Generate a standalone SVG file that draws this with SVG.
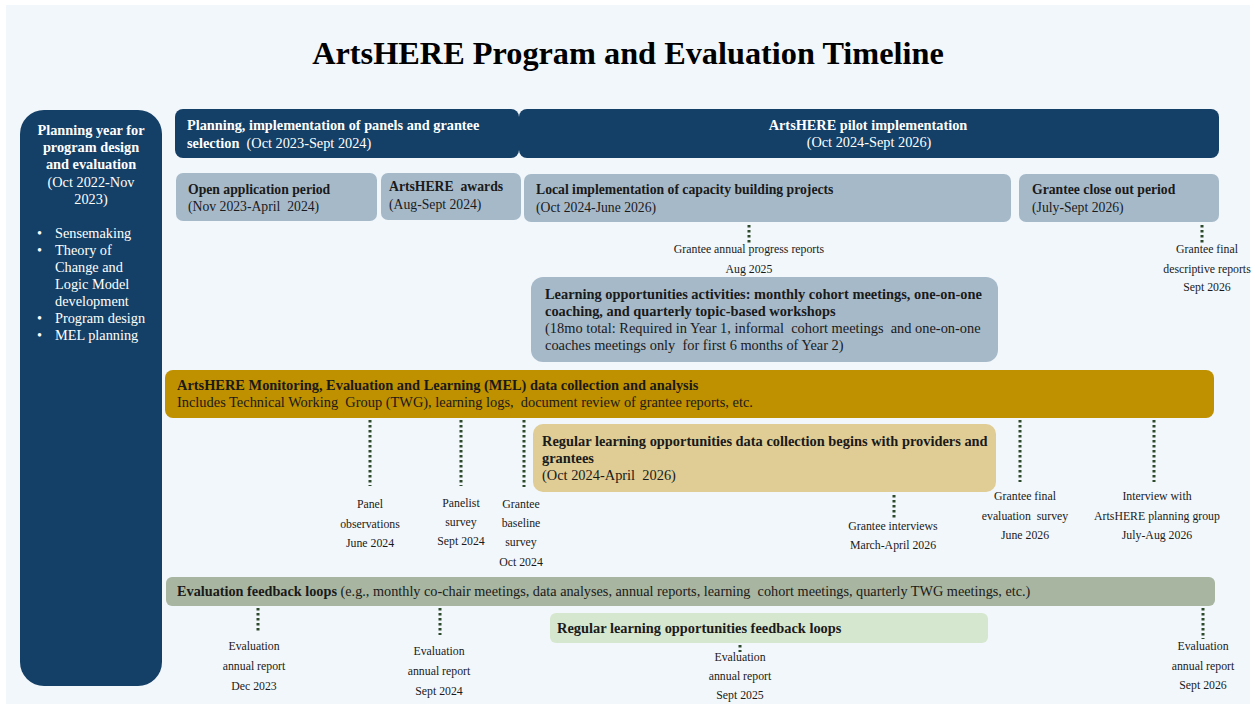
<svg xmlns="http://www.w3.org/2000/svg" width="1255" height="704" viewBox="0 0 1255 704" xml:space="preserve">
<style>
text{font-family:"Liberation Serif","Times New Roman",serif;white-space:pre;}
.t{font-size:14.4px;fill:#1a1a1a;}
.r2{font-size:13.7px;fill:#1a1a1a;}
.w{font-size:14.3px;fill:#ffffff;}
.b{font-weight:bold;}
.n{font-weight:normal;}
.s{font-size:11.8px;fill:#1a1a1a;text-anchor:middle;}
.c{text-anchor:middle;}
.navy{fill:#143f66;}
.gb{fill:#a6b9c9;}
.dot{stroke:#2d4a2d;stroke-width:3;stroke-dasharray:2.5 2.5;fill:none;}
</style>
<rect x="0" y="0" width="1255" height="704" fill="#ffffff"/>
<rect x="6" y="5" width="1244" height="699" fill="#f2f7fb"/>
<text x="628" y="64" class="c b" style="font-size:32.3px;fill:#000">ArtsHERE Program and Evaluation Timeline</text>

<g id="planning-year">
<rect x="20" y="110" width="142" height="576" rx="24" class="navy"/>
<text class="w c b"><tspan x="91" y="135">Planning year for</tspan><tspan x="91" y="152">program design</tspan><tspan x="91" y="169">and evaluation</tspan></text>
<text class="w c"><tspan x="91" y="187">(Oct 2022-Nov</tspan><tspan x="91" y="204">2023)</tspan></text>
<text class="w"><tspan x="37" y="238">•</tspan><tspan x="55" y="238">Sensemaking</tspan><tspan x="37" y="255">•</tspan><tspan x="55" y="255">Theory of</tspan><tspan x="55" y="272">Change and</tspan><tspan x="55" y="289">Logic Model</tspan><tspan x="55" y="306">development</tspan><tspan x="37" y="323">•</tspan><tspan x="55" y="323">Program design</tspan><tspan x="37" y="340">•</tspan><tspan x="55" y="340">MEL planning</tspan></text>
</g>

<g id="planning-implementation">
<rect x="175" y="109" width="344" height="49" rx="8" class="navy"/>
<text class="w b"><tspan x="187" y="130">Planning, implementation of panels and grantee</tspan><tspan x="187" y="148">selection</tspan><tspan class="n">  (Oct 2023-Sept 2024)</tspan></text>
</g>

<g id="pilot-implementation">
<rect x="519" y="109" width="700" height="49" rx="8" class="navy"/>
<text class="w b c" x="868" y="130">ArtsHERE pilot implementation</text>
<text class="w c" x="869" y="147">(Oct 2024-Sept 2026)</text>
</g>

<g id="open-application">
<rect x="176" y="173" width="201" height="48" rx="7" class="gb"/>
<text class="r2"><tspan x="188" y="194" class="b">Open application period</tspan><tspan x="188" y="211">(Nov 2023-April  2024)</tspan></text>
</g>

<g id="awards">
<rect x="381" y="173" width="140" height="47" rx="7" class="gb"/>
<text class="r2"><tspan x="389" y="191" class="b">ArtsHERE  awards</tspan><tspan x="389" y="209">(Aug-Sept 2024)</tspan></text>
</g>

<g id="local-implementation">
<rect x="524" y="174" width="487" height="48" rx="7" class="gb"/>
<text class="r2"><tspan x="536" y="194" class="b">Local implementation of capacity building projects</tspan><tspan x="536" y="212">(Oct 2024-June 2026)</tspan></text>
</g>

<g id="close-out">
<rect x="1019" y="174" width="200" height="48" rx="7" class="gb"/>
<text class="r2"><tspan x="1032" y="194" class="b">Grantee close out period</tspan><tspan x="1032" y="212">(July-Sept 2026)</tspan></text>
</g>

<g id="learning-activities">
<rect x="531" y="277" width="467" height="85" rx="12" class="gb"/>
<text class="t"><tspan x="545" y="299" class="b">Learning opportunities activities: monthly cohort meetings, one-on-one</tspan><tspan x="545" y="316" class="b">coaching, and quarterly topic-based workshops</tspan><tspan x="545" y="333">(18mo total: Required in Year 1, informal  cohort meetings  and one-on-one</tspan><tspan x="545" y="350">coaches meetings only  for first 6 months of Year 2)</tspan></text>
</g>

<g id="mel">
<rect x="165" y="370" width="1049" height="48" rx="8" fill="#bf9000"/>
<text class="t"><tspan x="177" y="390" class="b">ArtsHERE Monitoring, Evaluation and Learning (MEL) data collection and analysis</tspan><tspan x="177" y="407">Includes Technical Working  Group (TWG), learning logs,  document review of grantee reports, etc.</tspan></text>
</g>

<g id="regular-data-collection">
<rect x="533" y="424" width="463" height="68" rx="10" fill="#dfcd95"/>
<text class="t"><tspan x="542" y="446" class="b">Regular learning opportunities data collection begins with providers and</tspan><tspan x="542" y="463" class="b">grantees</tspan><tspan x="542" y="480">(Oct 2024-April  2026)</tspan></text>
</g>

<g id="feedback-loops">
<rect x="166" y="577" width="1049" height="29" rx="6" fill="#a8b5a0"/>
<text class="t" x="177" y="596" style="font-size:14.25px"><tspan class="b">Evaluation feedback loops</tspan> (e.g., monthly co-chair meetings, data analyses, annual reports, learning  cohort meetings, quarterly TWG meetings, etc.)</text>
</g>

<g id="regular-feedback-loops">
<rect x="550" y="613" width="438" height="30" rx="6" fill="#d6e7cf"/>
<text class="t b" x="557" y="633">Regular learning opportunities feedback loops</text>
</g>

<g id="connectors">
<line class="dot" x1="749" y1="225" x2="749" y2="245"/>
<line class="dot" x1="1202" y1="225" x2="1202" y2="244"/>
<line class="dot" x1="370" y1="420" x2="370" y2="486"/>
<line class="dot" x1="461" y1="420" x2="461" y2="486"/>
<line class="dot" x1="524" y1="420" x2="524" y2="487"/>
<line class="dot" x1="1020" y1="420" x2="1020" y2="482"/>
<line class="dot" x1="1154" y1="420" x2="1154" y2="482"/>
<line class="dot" x1="894" y1="495" x2="894" y2="518"/>
<line class="dot" x1="258" y1="608" x2="258" y2="632"/>
<line class="dot" x1="440" y1="608" x2="440" y2="635"/>
<line class="dot" x1="740" y1="645" x2="740" y2="652"/>
<line class="dot" x1="1203" y1="608" x2="1203" y2="639"/>
</g>

<g id="milestones">
<text class="s"><tspan x="749" y="253">Grantee annual progress reports</tspan><tspan x="749" y="273">Aug 2025</tspan></text>
<text class="s"><tspan x="1207" y="253">Grantee final</tspan><tspan x="1207" y="273">descriptive reports</tspan><tspan x="1207" y="291">Sept 2026</tspan></text>
<text class="s"><tspan x="370" y="508">Panel</tspan><tspan x="370" y="528">observations</tspan><tspan x="370" y="547">June 2024</tspan></text>
<text class="s"><tspan x="461" y="507">Panelist</tspan><tspan x="461" y="526">survey</tspan><tspan x="461" y="545">Sept 2024</tspan></text>
<text class="s"><tspan x="521" y="508">Grantee</tspan><tspan x="521" y="527">baseline</tspan><tspan x="521" y="546">survey</tspan><tspan x="521" y="566">Oct 2024</tspan></text>
<text class="s"><tspan x="893" y="530">Grantee interviews</tspan><tspan x="893" y="549">March-April 2026</tspan></text>
<text class="s"><tspan x="1025" y="500">Grantee final</tspan><tspan x="1025" y="520">evaluation  survey</tspan><tspan x="1025" y="539">June 2026</tspan></text>
<text class="s"><tspan x="1157" y="500">Interview with</tspan><tspan x="1157" y="520">ArtsHERE planning group</tspan><tspan x="1157" y="539">July-Aug 2026</tspan></text>
<text class="s"><tspan x="254" y="650">Evaluation</tspan><tspan x="254" y="670">annual report</tspan><tspan x="254" y="690">Dec 2023</tspan></text>
<text class="s"><tspan x="439" y="655">Evaluation</tspan><tspan x="439" y="675">annual report</tspan><tspan x="439" y="695">Sept 2024</tspan></text>
<text class="s"><tspan x="740" y="661">Evaluation</tspan><tspan x="740" y="680">annual report</tspan><tspan x="740" y="699">Sept 2025</tspan></text>
<text class="s"><tspan x="1203" y="650">Evaluation</tspan><tspan x="1203" y="670">annual report</tspan><tspan x="1203" y="689">Sept 2026</tspan></text>
</g>
</svg>
